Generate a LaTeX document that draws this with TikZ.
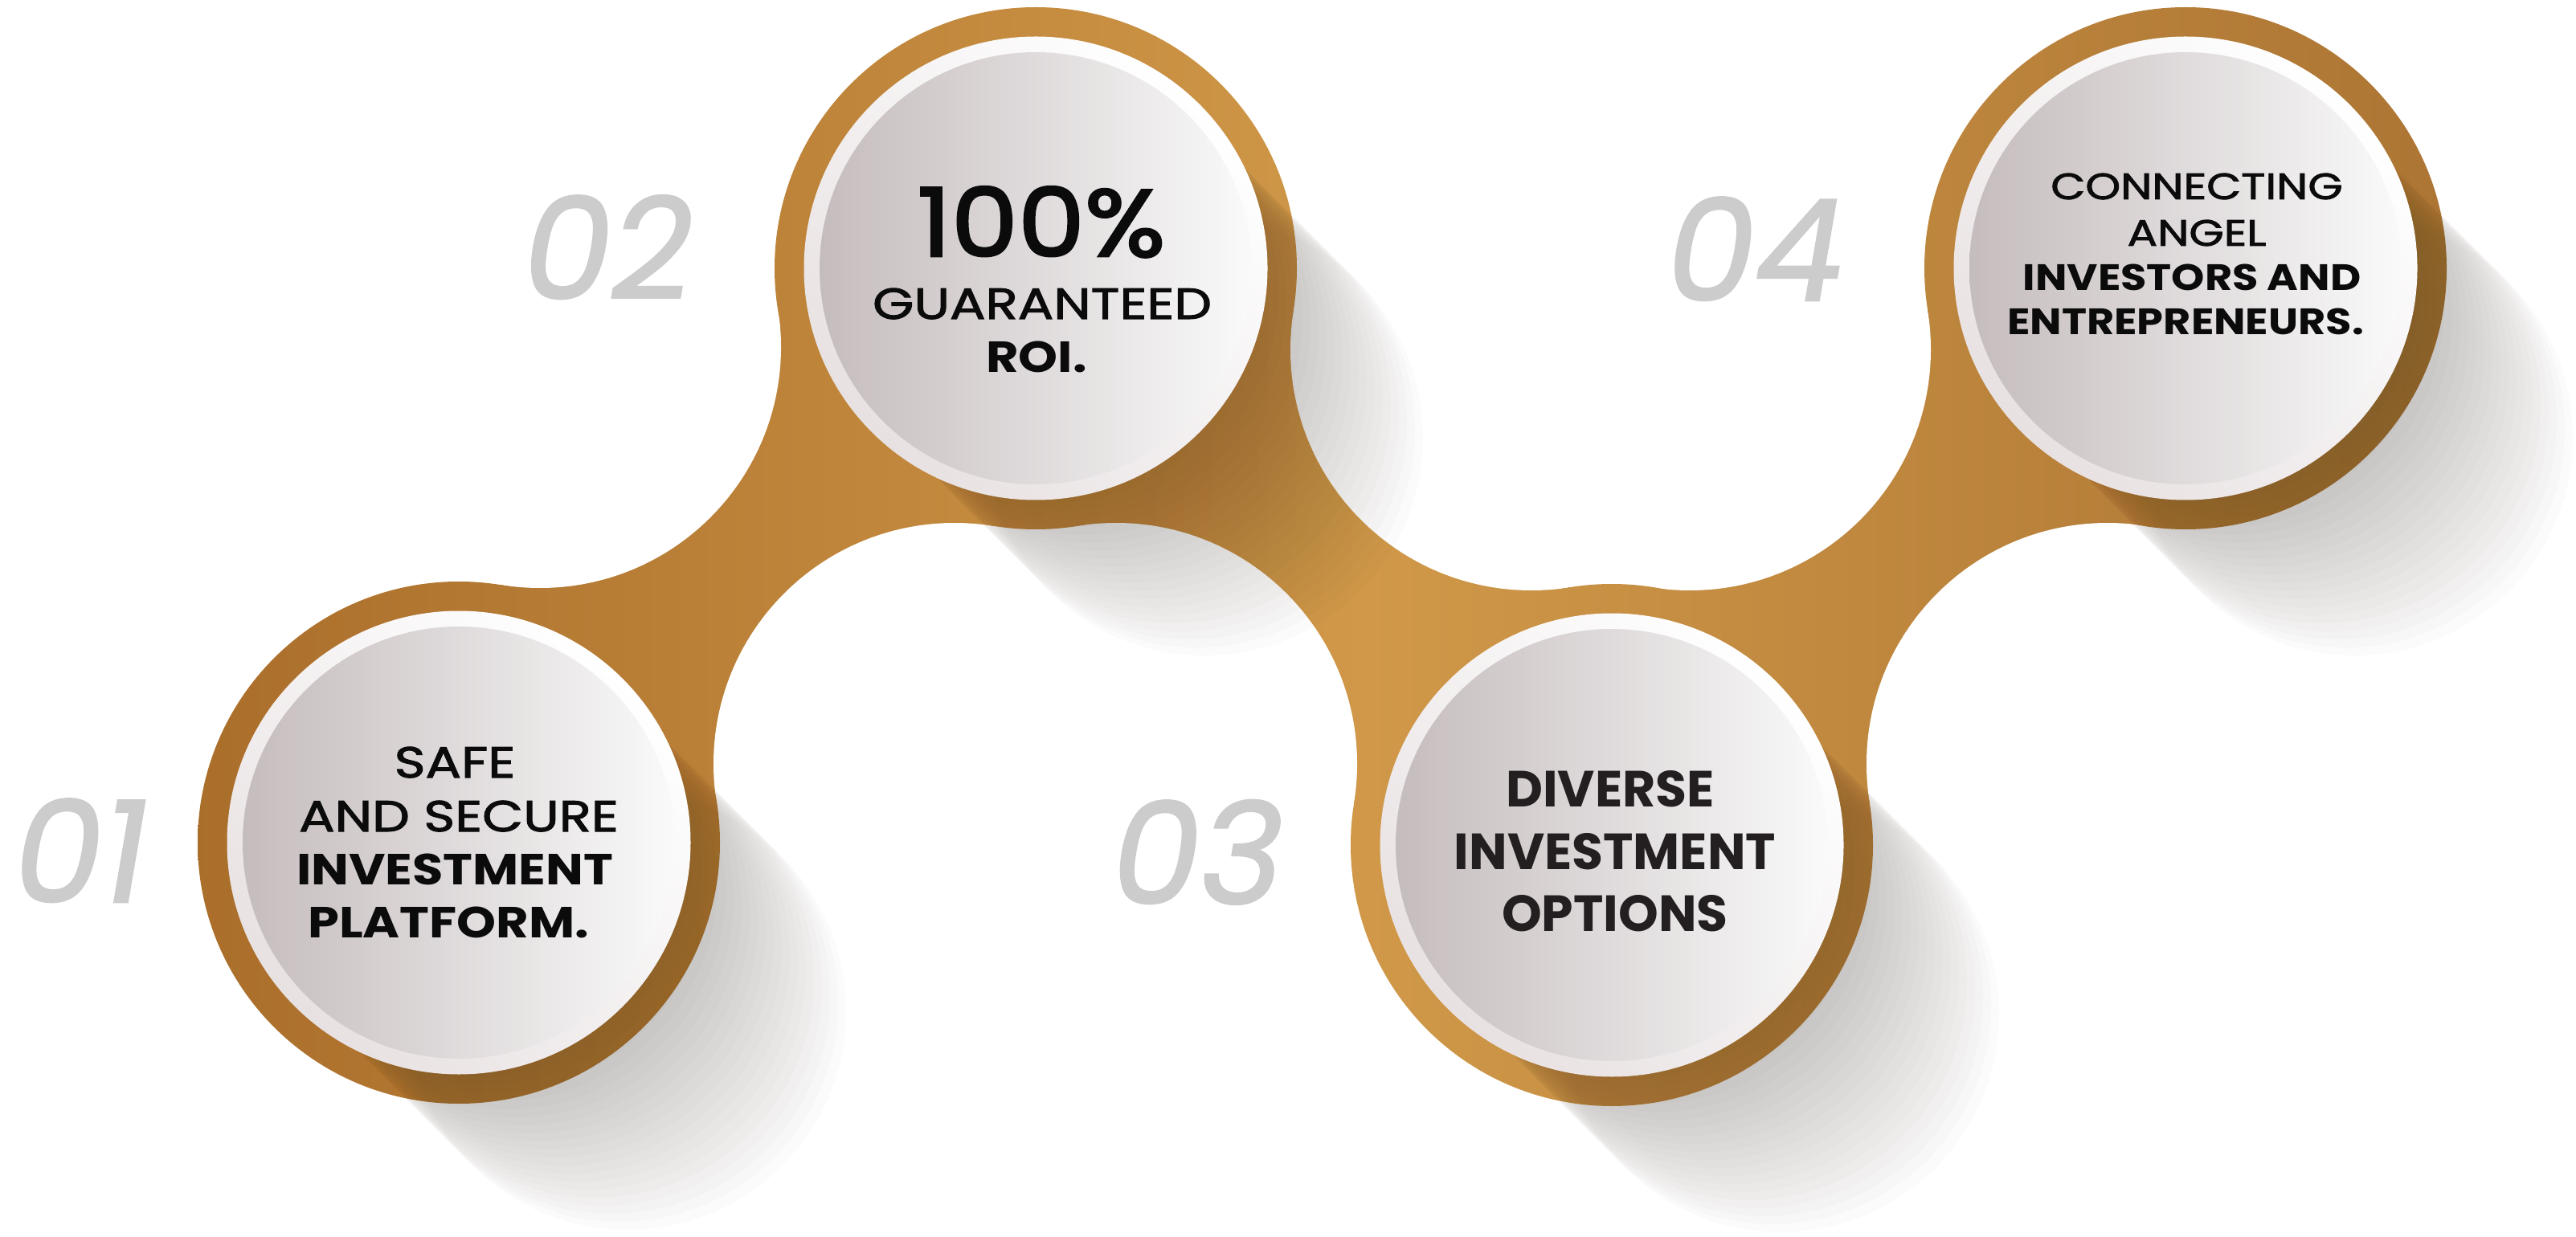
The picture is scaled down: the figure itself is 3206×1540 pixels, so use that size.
\documentclass[tikz,border=0pt]{standalone}
\usepackage{fontspec}
\setmainfont{Poppins}
\newfontfamily\numfont[FakeSlant=0.17,FakeBold=1.5]{Poppins}
\newfontfamily\mmfont[FakeStretch=1.22,FakeBold=2]{Poppins}
\newfontfamily\mbfont[FakeStretch=1.15]{Poppins}
\newfontfamily\pctfont[FakeStretch=1.12,FakeBold=2.5]{Poppins}
\definecolor{goldL}{HTML}{D09848}
\definecolor{goldA}{HTML}{A96D2A}
\definecolor{goldB}{HTML}{A87131}
\definecolor{ringD}{HTML}{E8E1E2}
\definecolor{discD}{HTML}{C5BCBD}
\definecolor{discL}{HTML}{FAFAFA}
\definecolor{numgray}{HTML}{CCCCCC}
\definecolor{txtdark}{HTML}{0B0B0B}
\definecolor{txtdiv}{HTML}{231F20}
\definecolor{shadowc}{HTML}{3A3028}
\begin{document}
\begin{tikzpicture}[x=0.01cm,y=-0.01cm,
  goldshade/.style={left color=goldA, right color=goldB, middle color=goldL},
  ring/.style={top color=white, bottom color=ringD, shading angle=-45},
  disc/.style={left color=discD, right color=discL},
  lab/.style={anchor=base, inner sep=0pt, outer sep=0pt, text=txtdark},
  tm/.style={lab, font=\mmfont\fontsize{#1}{#1}\selectfont},
  tb/.style={lab, font=\mbfont\bfseries\fontsize{#1}{#1}\selectfont},
  tp/.style={lab, font=\bfseries\fontsize{#1}{#1}\selectfont, text=txtdiv},
  num/.style={anchor=base, inner sep=0pt, text=numgray, font=\numfont\fontsize{49.8pt}{49.8pt}\selectfont},
]
\useasboundingbox (0,0) rectangle (3206,1540);
\fill[white] (0,0) rectangle (3206,1540);
\coordinate (c1) at (571,1049);
\coordinate (c2) at (1289,334);
\coordinate (c3) at (2006,1052);
\coordinate (c4) at (2720,334);
\coordinate (hu1) at (672,432);
\coordinate (hl1) at (1188,951);
\coordinate (hl2) at (1389,951);
\coordinate (hu2) at (1906,435);
\coordinate (hu3) at (2103,435);
\coordinate (hl3) at (2623,951);
% connectors
\foreach \a/\b/\c/\d in {c1/hl1/c2/hu1, c2/hu2/c3/hl2, c3/hl3/c4/hu3}{
  \begin{scope}
    \clip (\a) -- (\b) -- (\c) -- (\d) -- cycle;
    \shade[goldshade] (200,0) rectangle (3200,1540);
  \end{scope}
}
% holes
\foreach \h in {hu1,hl1,hl2,hu2,hu3,hl3} \fill[white] (\h) circle (300);
% gold circles
\begin{scope}
  \clip (c1) circle (325) (c2) circle (325) (c3) circle (325) (c4) circle (325);
  \shade[goldshade] (200,0) rectangle (3200,1540);
\end{scope}
% long shadows
\foreach \c in {c1,c2,c3,c4}{
  \foreach \i in {0,...,21}{
    \fill[shadowc, opacity=0.016] ([shift={(\i*10,\i*10)}]\c) circle (272);
  }
}
% rings and discs
\foreach \c in {c1,c2,c3,c4}{
  \shade[ring] (\c) circle (288.5);
  \shade[disc] (\c) circle (269);
}
% texts
\node[tm=15.4pt] (t1a) at (566,968) {SAFE};
\node[tm=15.4pt] (t1b) at (571,1035) {AND SECURE};
\node[tb=15.4pt] (t1c) at (566,1101) {INVESTMENT};
\node[tb=15.4pt] (t1d) at (558,1167) {PLATFORM.};
\node[lab, font=\pctfont\fontsize{33.6pt}{33.6pt}\selectfont] (t2a) at (1296,319) {100\%};
\node[tm=15.4pt] (t2b) at (1297,397) {GUARANTEED};
\node[tb=15.4pt] (t2c) at (1290,464) {ROI.};
\node[tp=18pt] (t3a) at (2004,1004) {DIVERSE};
\node[tp=18pt] (t3b) at (2010,1082) {INVESTMENT};
\node[tp=18pt] (t3c) at (2010,1159) {OPTIONS};
\node[tm=13pt] (t4a) at (2734,248) {CONNECTING};
\node[tm=13pt] (t4b) at (2734,306) {ANGEL};
\node[tb=13pt] (t4c) at (2728,362) {INVESTORS AND};
\node[tb=13pt] (t4d) at (2720,417) {ENTREPRENEURS.};
% numbers
\node[num] (n1) at (92,1123) {01};
\node[num] (n2) at (748,372) {02};
\node[num] (n3) at (1482,1125) {03};
\node[num] (n4) at (2176,374) {04};
\end{tikzpicture}
\end{document}
